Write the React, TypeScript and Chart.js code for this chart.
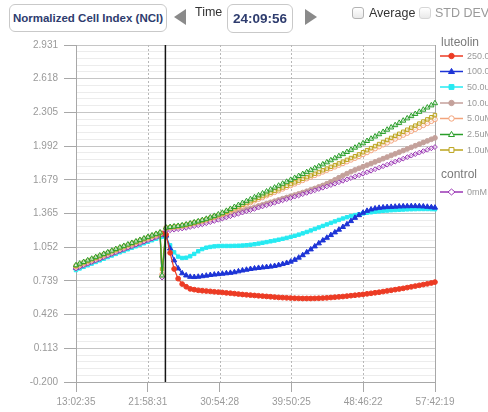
import { useEffect, useRef } from 'react';
import { Chart, registerables } from 'chart.js';

Chart.register(...registerables);

// time in hours
const TIME_H = [
  13.04, 13.5, 14, 14.5, 15, 15.5, 16, 16.5, 17, 17.5,
  18, 18.5, 19, 19.5, 20, 20.5, 21, 21.5, 22, 22.5,
  23, 23.5, 23.75, 24.25, 24.75, 25.25, 25.75, 26.25, 26.75, 27.25,
  27.75, 28.25, 28.75, 29.25, 29.75, 30.25, 30.75, 31.25, 31.75, 32.25,
  32.75, 33.25, 33.75, 34.25, 34.75, 35.25, 35.75, 36.25, 36.75, 37.25,
  37.75, 38.25, 38.75, 39.25, 39.75, 40.25, 40.75, 41.25, 41.75, 42.25,
  42.75, 43.25, 43.75, 44.25, 44.75, 45.25, 45.75, 46.25, 46.75, 47.25,
  47.75, 48.25, 48.75, 49.25, 49.75, 50.25, 50.75, 51.25, 51.75, 52.25,
  52.75, 53.25, 53.75, 54.25, 54.75, 55.25, 55.75, 56.25, 56.75, 57.25,
  57.7,
];

const NCI_250 = [
  0.865, 0.88, 0.895, 0.91, 0.925, 0.94, 0.955, 0.97, 0.985, 1.0,
  1.015, 1.03, 1.044, 1.058, 1.072, 1.086, 1.1, 1.114, 1.128, 1.142,
  1.156, 1.17, 1.18, 1.17, 1.0, 0.85, 0.76, 0.71, 0.685, 0.665,
  0.658, 0.652, 0.648, 0.645, 0.642, 0.638, 0.635, 0.632, 0.628, 0.625,
  0.621, 0.617, 0.613, 0.61, 0.607, 0.604, 0.601, 0.598, 0.595, 0.592,
  0.589, 0.586, 0.584, 0.582, 0.58, 0.578, 0.577, 0.576, 0.576, 0.576,
  0.577, 0.578, 0.58, 0.582, 0.585, 0.588, 0.591, 0.594, 0.598, 0.602,
  0.606, 0.61, 0.614, 0.619, 0.624, 0.629, 0.634, 0.64, 0.646, 0.652,
  0.658, 0.664, 0.67, 0.677, 0.684, 0.691, 0.698, 0.705, 0.712, 0.72,
  0.728,
];

const NCI_100 = [
  0.86, 0.875, 0.89, 0.905, 0.92, 0.935, 0.95, 0.965, 0.98, 0.995,
  1.01, 1.025, 1.039, 1.053, 1.067, 1.081, 1.095, 1.109, 1.123, 1.137,
  1.151, 1.165, 1.17, 1.16, 1.04, 0.93, 0.855, 0.81, 0.79, 0.777,
  0.775, 0.778, 0.783, 0.788, 0.794, 0.798, 0.802, 0.806, 0.81, 0.814,
  0.82, 0.828, 0.836, 0.843, 0.85, 0.855, 0.86, 0.864, 0.868, 0.872,
  0.878, 0.886, 0.896, 0.906, 0.918, 0.935, 0.955, 0.978, 1.005, 1.032,
  1.06, 1.088, 1.115, 1.14, 1.165, 1.19, 1.215, 1.24, 1.265, 1.295,
  1.325, 1.35, 1.372, 1.39, 1.403, 1.412, 1.418, 1.422, 1.425, 1.427,
  1.429, 1.431, 1.432, 1.433, 1.434, 1.434, 1.433, 1.431, 1.428, 1.424,
  1.42,
];

const NCI_50 = [
  0.84, 0.855, 0.87, 0.885, 0.9, 0.915, 0.93, 0.945, 0.96, 0.975,
  0.99, 1.005, 1.019, 1.033, 1.047, 1.061, 1.075, 1.089, 1.103, 1.117,
  1.131, 1.145, 1.15, 1.15, 1.07, 1.005, 0.965, 0.952, 0.955, 0.968,
  0.99, 1.015, 1.035, 1.048, 1.055, 1.06, 1.063, 1.064, 1.064, 1.064,
  1.065, 1.066, 1.068, 1.071, 1.075, 1.08, 1.086, 1.093, 1.1, 1.107,
  1.114, 1.122, 1.13, 1.139, 1.148, 1.158, 1.169, 1.181, 1.194, 1.208,
  1.222, 1.236, 1.25, 1.264, 1.278, 1.292, 1.306, 1.319, 1.331, 1.342,
  1.351, 1.359, 1.366, 1.372, 1.377, 1.382, 1.386, 1.39, 1.393, 1.396,
  1.398, 1.4, 1.402, 1.404, 1.405, 1.406, 1.407, 1.407, 1.407, 1.406,
  1.405,
];

const NCI_10 = [
  0.86, 0.875, 0.89, 0.905, 0.92, 0.935, 0.95, 0.965, 0.98, 0.995,
  1.01, 1.025, 1.039, 1.053, 1.067, 1.081, 1.095, 1.109, 1.123, 1.137,
  1.151, 1.165, 0.78, 1.22, 1.225, 1.23, 1.235, 1.241, 1.247, 1.255,
  1.263, 1.271, 1.28, 1.29, 1.3, 1.311, 1.322, 1.333, 1.344, 1.355,
  1.367, 1.378, 1.389, 1.401, 1.412, 1.423, 1.435, 1.446, 1.457, 1.469,
  1.48, 1.491, 1.503, 1.514, 1.525, 1.537, 1.548, 1.56, 1.572, 1.585,
  1.598, 1.612, 1.626, 1.642, 1.66, 1.678, 1.698, 1.718, 1.736, 1.754,
  1.77, 1.785, 1.8, 1.815, 1.83, 1.845, 1.86, 1.875, 1.89, 1.905,
  1.92, 1.935, 1.95, 1.965, 1.98, 1.995, 2.01, 2.025, 2.04, 2.055,
  2.068,
];

const NCI_5 = [
  0.875, 0.89, 0.905, 0.92, 0.935, 0.95, 0.965, 0.98, 0.995, 1.01,
  1.025, 1.04, 1.054, 1.068, 1.082, 1.096, 1.11, 1.124, 1.138, 1.152,
  1.166, 1.18, 0.8, 1.23, 1.235, 1.24, 1.245, 1.25, 1.258, 1.267,
  1.276, 1.286, 1.296, 1.307, 1.319, 1.332, 1.345, 1.358, 1.373, 1.389,
  1.405, 1.421, 1.437, 1.453, 1.469, 1.485, 1.5, 1.516, 1.532, 1.548,
  1.563, 1.579, 1.595, 1.611, 1.626, 1.642, 1.658, 1.674, 1.69, 1.706,
  1.721, 1.737, 1.753, 1.769, 1.785, 1.8, 1.816, 1.832, 1.848, 1.864,
  1.88, 1.897, 1.915, 1.933, 1.951, 1.969, 1.987, 2.005, 2.023, 2.041,
  2.059, 2.077, 2.095, 2.113, 2.131, 2.149, 2.167, 2.185, 2.204, 2.223,
  2.24,
];

const NCI_2_5 = [
  0.885, 0.9, 0.915, 0.93, 0.945, 0.96, 0.975, 0.99, 1.005, 1.02,
  1.035, 1.05, 1.064, 1.078, 1.092, 1.106, 1.12, 1.134, 1.148, 1.162,
  1.176, 1.19, 0.79, 1.235, 1.24, 1.245, 1.25, 1.256, 1.264, 1.273,
  1.283, 1.293, 1.304, 1.316, 1.329, 1.343, 1.357, 1.372, 1.39, 1.408,
  1.426, 1.444, 1.462, 1.48, 1.498, 1.516, 1.534, 1.552, 1.57, 1.588,
  1.606, 1.624, 1.642, 1.66, 1.678, 1.696, 1.714, 1.732, 1.75, 1.768,
  1.786, 1.804, 1.822, 1.841, 1.86, 1.879, 1.898, 1.917, 1.937, 1.957,
  1.977, 1.997, 2.018, 2.039, 2.06, 2.081, 2.102, 2.123, 2.144, 2.165,
  2.186, 2.207, 2.228, 2.249, 2.27, 2.29, 2.31, 2.33, 2.35, 2.37,
  2.39,
];

const NCI_1 = [
  0.88, 0.895, 0.91, 0.925, 0.94, 0.955, 0.97, 0.985, 1.0, 1.015,
  1.03, 1.045, 1.059, 1.073, 1.087, 1.101, 1.115, 1.129, 1.143, 1.157,
  1.171, 1.185, 0.85, 1.232, 1.237, 1.242, 1.247, 1.253, 1.261, 1.27,
  1.28, 1.29, 1.3, 1.312, 1.325, 1.338, 1.351, 1.365, 1.381, 1.398,
  1.414, 1.43, 1.447, 1.463, 1.479, 1.495, 1.511, 1.527, 1.543, 1.559,
  1.575, 1.591, 1.607, 1.623, 1.639, 1.655, 1.671, 1.687, 1.703, 1.719,
  1.735, 1.751, 1.767, 1.783, 1.799, 1.815, 1.831, 1.847, 1.864, 1.881,
  1.898, 1.915, 1.935, 1.954, 1.973, 1.992, 2.011, 2.03, 2.049, 2.068,
  2.087, 2.106, 2.125, 2.144, 2.163, 2.182, 2.201, 2.22, 2.24, 2.26,
  2.28,
];

const NCI_0 = [
  0.855, 0.87, 0.885, 0.9, 0.915, 0.93, 0.945, 0.96, 0.975, 0.99,
  1.005, 1.02, 1.034, 1.048, 1.062, 1.076, 1.09, 1.104, 1.118, 1.132,
  1.146, 1.16, 0.77, 1.205, 1.21, 1.215, 1.22, 1.226, 1.232, 1.24,
  1.248, 1.256, 1.265, 1.275, 1.285, 1.296, 1.307, 1.318, 1.329, 1.34,
  1.352, 1.363, 1.374, 1.386, 1.397, 1.408, 1.42, 1.431, 1.442, 1.454,
  1.465, 1.476, 1.488, 1.499, 1.51, 1.522, 1.533, 1.545, 1.557, 1.569,
  1.581, 1.593, 1.605, 1.617, 1.63, 1.643, 1.656, 1.669, 1.682, 1.695,
  1.708, 1.721, 1.735, 1.749, 1.763, 1.777, 1.791, 1.805, 1.819, 1.833,
  1.847, 1.861, 1.875, 1.889, 1.903, 1.917, 1.931, 1.945, 1.958, 1.971,
  1.983,
];

const SERIES_LABELS = ['250.0uM', '100.0uM', '50.0uM', '10.0uM', '5.0uM', '2.5uM', '1.0uM', '0mM'];
const SERIES_VALUES = [NCI_250, NCI_100, NCI_50, NCI_10, NCI_5, NCI_2_5, NCI_1, NCI_0];
const SERIES_COLORS = ['#ec3b24', '#1d34d6', '#26eaf2', '#c4a19b', '#f3a47c', '#2a9e2a', '#bba41c', '#9a36b4'];
const SERIES_SHAPES = ['circle', 'triangle', 'rect', 'circle', 'circle', 'triangle', 'rect', 'rectRot'];
const SERIES_FILLED = [true, true, true, true, false, false, false, false];
// lower = drawn on top
const SERIES_ORDER = [5, 6, 7, 4, 2, 0, 1, 3];
const GROUP_TITLES = ['luteolin', 'control'];

const X_TICK_VALUES = [13.04306, 21.97528, 30.90778, 39.84028, 48.77278, 57.70528];
const X_TICK_LABELS = ['13:02:35', '21:58:31', '30:54:28', '39:50:25', '48:46:22', '57:42:19'];
const Y_TICK_LABELS = ['-0.200', '0.113', '0.426', '0.739', '1.052', '1.365', '1.679', '1.992', '2.305', '2.618', '2.931'];
const Y_MIN = -0.2;
const Y_MAX = 2.931;
const CURRENT_TIME_H = 24.16556; // 24:09:56
const CURRENT_TIME_LABEL = '24:09:56';

const FONT = '"Liberation Sans", Arial, Helvetica, sans-serif';

function drawShape(ctx: CanvasRenderingContext2D, shape: string, x: number, y: number, r: number, color: string, filled: boolean) {
  ctx.beginPath();
  if (shape === 'circle') {
    ctx.arc(x, y, r, 0, Math.PI * 2);
  } else if (shape === 'triangle') {
    ctx.moveTo(x, y - r * 1.15);
    ctx.lineTo(x + r * 1.1, y + r * 0.75);
    ctx.lineTo(x - r * 1.1, y + r * 0.75);
    ctx.closePath();
  } else if (shape === 'rect') {
    ctx.rect(x - r * 0.9, y - r * 0.9, r * 1.8, r * 1.8);
  } else {
    ctx.moveTo(x, y - r * 1.1);
    ctx.lineTo(x + r * 1.3, y);
    ctx.lineTo(x, y + r * 1.1);
    ctx.lineTo(x - r * 1.3, y);
    ctx.closePath();
  }
  ctx.fillStyle = filled ? color : '#ffffff';
  ctx.fill();
  ctx.strokeStyle = color;
  ctx.lineWidth = 1;
  ctx.stroke();
}

const overlayPlugin = {
  id: 'nciOverlay',
  beforeDatasetsDraw(chart: any) {
    const { ctx, chartArea } = chart;
    const xs = chart.scales.x;
    ctx.save();
    ctx.strokeStyle = '#b8b8b8';
    ctx.lineWidth = 1;
    ctx.setLineDash([2, 2]);
    for (let i = 1; i < X_TICK_VALUES.length - 1; i++) {
      const px = Math.round(xs.getPixelForValue(X_TICK_VALUES[i])) + 0.5;
      ctx.beginPath();
      ctx.moveTo(px, chartArea.top);
      ctx.lineTo(px, chartArea.bottom);
      ctx.stroke();
    }
    ctx.setLineDash([]);
    ctx.strokeStyle = '#a8a8a8';
    const rx = Math.round(chartArea.right) + 0.5;
    ctx.beginPath();
    ctx.moveTo(rx, chartArea.top);
    ctx.lineTo(rx, chartArea.bottom + 10);
    ctx.stroke();
    ctx.restore();
  },
  afterDatasetsDraw(chart: any) {
    const { ctx, chartArea } = chart;
    const xs = chart.scales.x;
    const px = xs.getPixelForValue(CURRENT_TIME_H);
    ctx.save();
    ctx.strokeStyle = '#151515';
    ctx.lineWidth = 1.5;
    ctx.beginPath();
    ctx.moveTo(px, chartArea.top);
    ctx.lineTo(px, chartArea.bottom);
    ctx.stroke();
    ctx.restore();
  },
  afterDraw(chart: any) {
    const { ctx, chartArea } = chart;
    const lx = chartArea.right + 5;
    ctx.save();
    ctx.textBaseline = 'middle';
    ctx.textAlign = 'left';
    ctx.font = `12px ${FONT}`;
    ctx.fillStyle = '#7a7a7a';
    ctx.fillText(GROUP_TITLES[0], lx + 1, 43);
    ctx.fillText(GROUP_TITLES[1], lx + 1, 175);
    const rows = [56, 71.5, 87, 103, 118.5, 134.5, 150, 192];
    ctx.font = `9px ${FONT}`;
    for (let i = 0; i < SERIES_LABELS.length; i++) {
      const y = rows[i];
      ctx.strokeStyle = SERIES_COLORS[i];
      ctx.lineWidth = 1.5;
      ctx.beginPath();
      ctx.moveTo(lx, y);
      ctx.lineTo(lx + 23, y);
      ctx.stroke();
      drawShape(ctx, SERIES_SHAPES[i], lx + 11.5, y, 2.7, SERIES_COLORS[i], SERIES_FILLED[i]);
      ctx.fillStyle = '#9a9a9a';
      ctx.fillText(SERIES_LABELS[i], lx + 27, y + 0.5);
    }
    ctx.restore();
  },
};

export default function App() {
  const canvasRef = useRef<HTMLCanvasElement | null>(null);

  useEffect(() => {
    const canvas = canvasRef.current;
    if (!canvas) return;
    const datasets = SERIES_LABELS.map((label, i) => ({
      label,
      data: TIME_H.map((t, k) => ({ x: t, y: SERIES_VALUES[i][k] })),
      borderColor: SERIES_COLORS[i],
      backgroundColor: SERIES_FILLED[i] ? SERIES_COLORS[i] : 'rgba(255,255,255,0.6)',
      pointBackgroundColor: SERIES_FILLED[i] ? SERIES_COLORS[i] : 'rgba(255,255,255,0.6)',
      pointBorderColor: SERIES_COLORS[i],
      pointStyle: SERIES_SHAPES[i],
      pointRadius: SERIES_SHAPES[i] === 'triangle' ? 3 : 2.4,
      pointBorderWidth: 1,
      borderWidth: 1.2,
      tension: 0,
      order: SERIES_ORDER[i],
      clip: 6,
    }));

    const chart = new Chart(canvas, {
      type: 'line',
      data: { datasets },
      options: {
        animation: false,
        responsive: false,
        maintainAspectRatio: false,
        layout: { padding: { left: 0, right: 53, top: 45, bottom: 0 } },
        plugins: { legend: { display: false }, tooltip: { enabled: false } },
        scales: {
          x: {
            type: 'linear',
            min: X_TICK_VALUES[0],
            max: X_TICK_VALUES[X_TICK_VALUES.length - 1],
            afterBuildTicks: (s: any) => {
              s.ticks = X_TICK_VALUES.map((v) => ({ value: v }));
            },
            afterFit: (s: any) => {
              s.height = 30;
            },
            ticks: {
              autoSkip: false,
              maxRotation: 0,
              padding: 4,
              color: '#9a9a9a',
              font: { size: 10, family: FONT },
              callback: (_v: any, i: number) => X_TICK_LABELS[i],
            },
            grid: { drawOnChartArea: false, drawTicks: true, tickLength: 10, tickColor: '#a8a8a8' },
            border: { display: true, color: '#a8a8a8' },
          },
          y: {
            type: 'linear',
            min: Y_MIN,
            max: Y_MAX,
            afterBuildTicks: (s: any) => {
              const n = (Y_TICK_LABELS.length - 1) * 5;
              const t: any[] = [];
              for (let k = 0; k <= n; k++) t.push({ value: Y_MIN + ((Y_MAX - Y_MIN) * k) / n });
              s.ticks = t;
            },
            afterFit: (s: any) => {
              s.width = 76;
            },
            ticks: {
              autoSkip: false,
              padding: 6,
              color: '#9a9a9a',
              font: { size: 10, family: FONT },
              callback: (_v: any, i: number) => (i % 5 === 0 ? Y_TICK_LABELS[i / 5] : ''),
            },
            grid: {
              color: (c: any) => (c.index % 5 === 0 ? '#c6c6c6' : '#ececec'),
              tickColor: (c: any) => (c.index % 5 === 0 ? '#a8a8a8' : 'rgba(0,0,0,0)'),
              tickLength: 12,
              lineWidth: 1,
            },
            border: { display: true, color: '#a8a8a8' },
          },
        },
      } as any,
      plugins: [overlayPlugin],
    });
    return () => chart.destroy();
  }, []);

  const box: any = {
    position: 'absolute',
    boxSizing: 'border-box',
    border: '1px solid #c9c9c9',
    borderRadius: 6,
    display: 'flex',
    alignItems: 'center',
    justifyContent: 'center',
    whiteSpace: 'nowrap',
    color: '#2e3c6e',
    fontFamily: FONT,
    fontWeight: 'bold',
    background: '#fff',
  };
  const text: any = { position: 'absolute', fontFamily: FONT, fontSize: 12.5, whiteSpace: 'nowrap', lineHeight: '14px' };
  const check: any = {
    position: 'absolute',
    width: 12,
    height: 12,
    boxSizing: 'border-box',
    borderRadius: 3,
    background: 'linear-gradient(#ffffff, #e9e9e9)',
  };

  return (
    <div style={{ position: 'fixed', left: 0, top: 0, width: 488, height: 412, background: '#fff', overflow: 'hidden' }}>
      <canvas ref={canvasRef} width={488} height={412} style={{ position: 'absolute', left: 0, top: 0, width: 488, height: 412 }} />
      <div style={{ ...box, left: 9, top: 4, width: 158, height: 28, fontSize: 11.5 }}>Normalized Cell Index (NCI)</div>
      <div
        style={{
          position: 'absolute', left: 174, top: 9, width: 0, height: 0,
          borderTop: '8.5px solid transparent', borderBottom: '8.5px solid transparent', borderRight: '12px solid #8a8a8a',
        }}
      />
      <div style={{ ...text, left: 195, top: 5, color: '#333' }}>Time</div>
      <div style={{ ...box, left: 227, top: 4, width: 66, height: 29, fontSize: 13.5 }}>{CURRENT_TIME_LABEL}</div>
      <div
        style={{
          position: 'absolute', left: 305, top: 9, width: 0, height: 0,
          borderTop: '8.5px solid transparent', borderBottom: '8.5px solid transparent', borderLeft: '12px solid #8a8a8a',
        }}
      />
      <div style={{ ...check, left: 352, top: 7, border: '1px solid #b3b3b3' }} />
      <div style={{ ...text, left: 369, top: 6, color: '#333' }}>Average</div>
      <div style={{ ...check, left: 419, top: 7, border: '1px solid #d6d6d6' }} />
      <div style={{ ...text, left: 435, top: 6, color: '#9a9a9a' }}>STD DEV</div>
    </div>
  );
}
